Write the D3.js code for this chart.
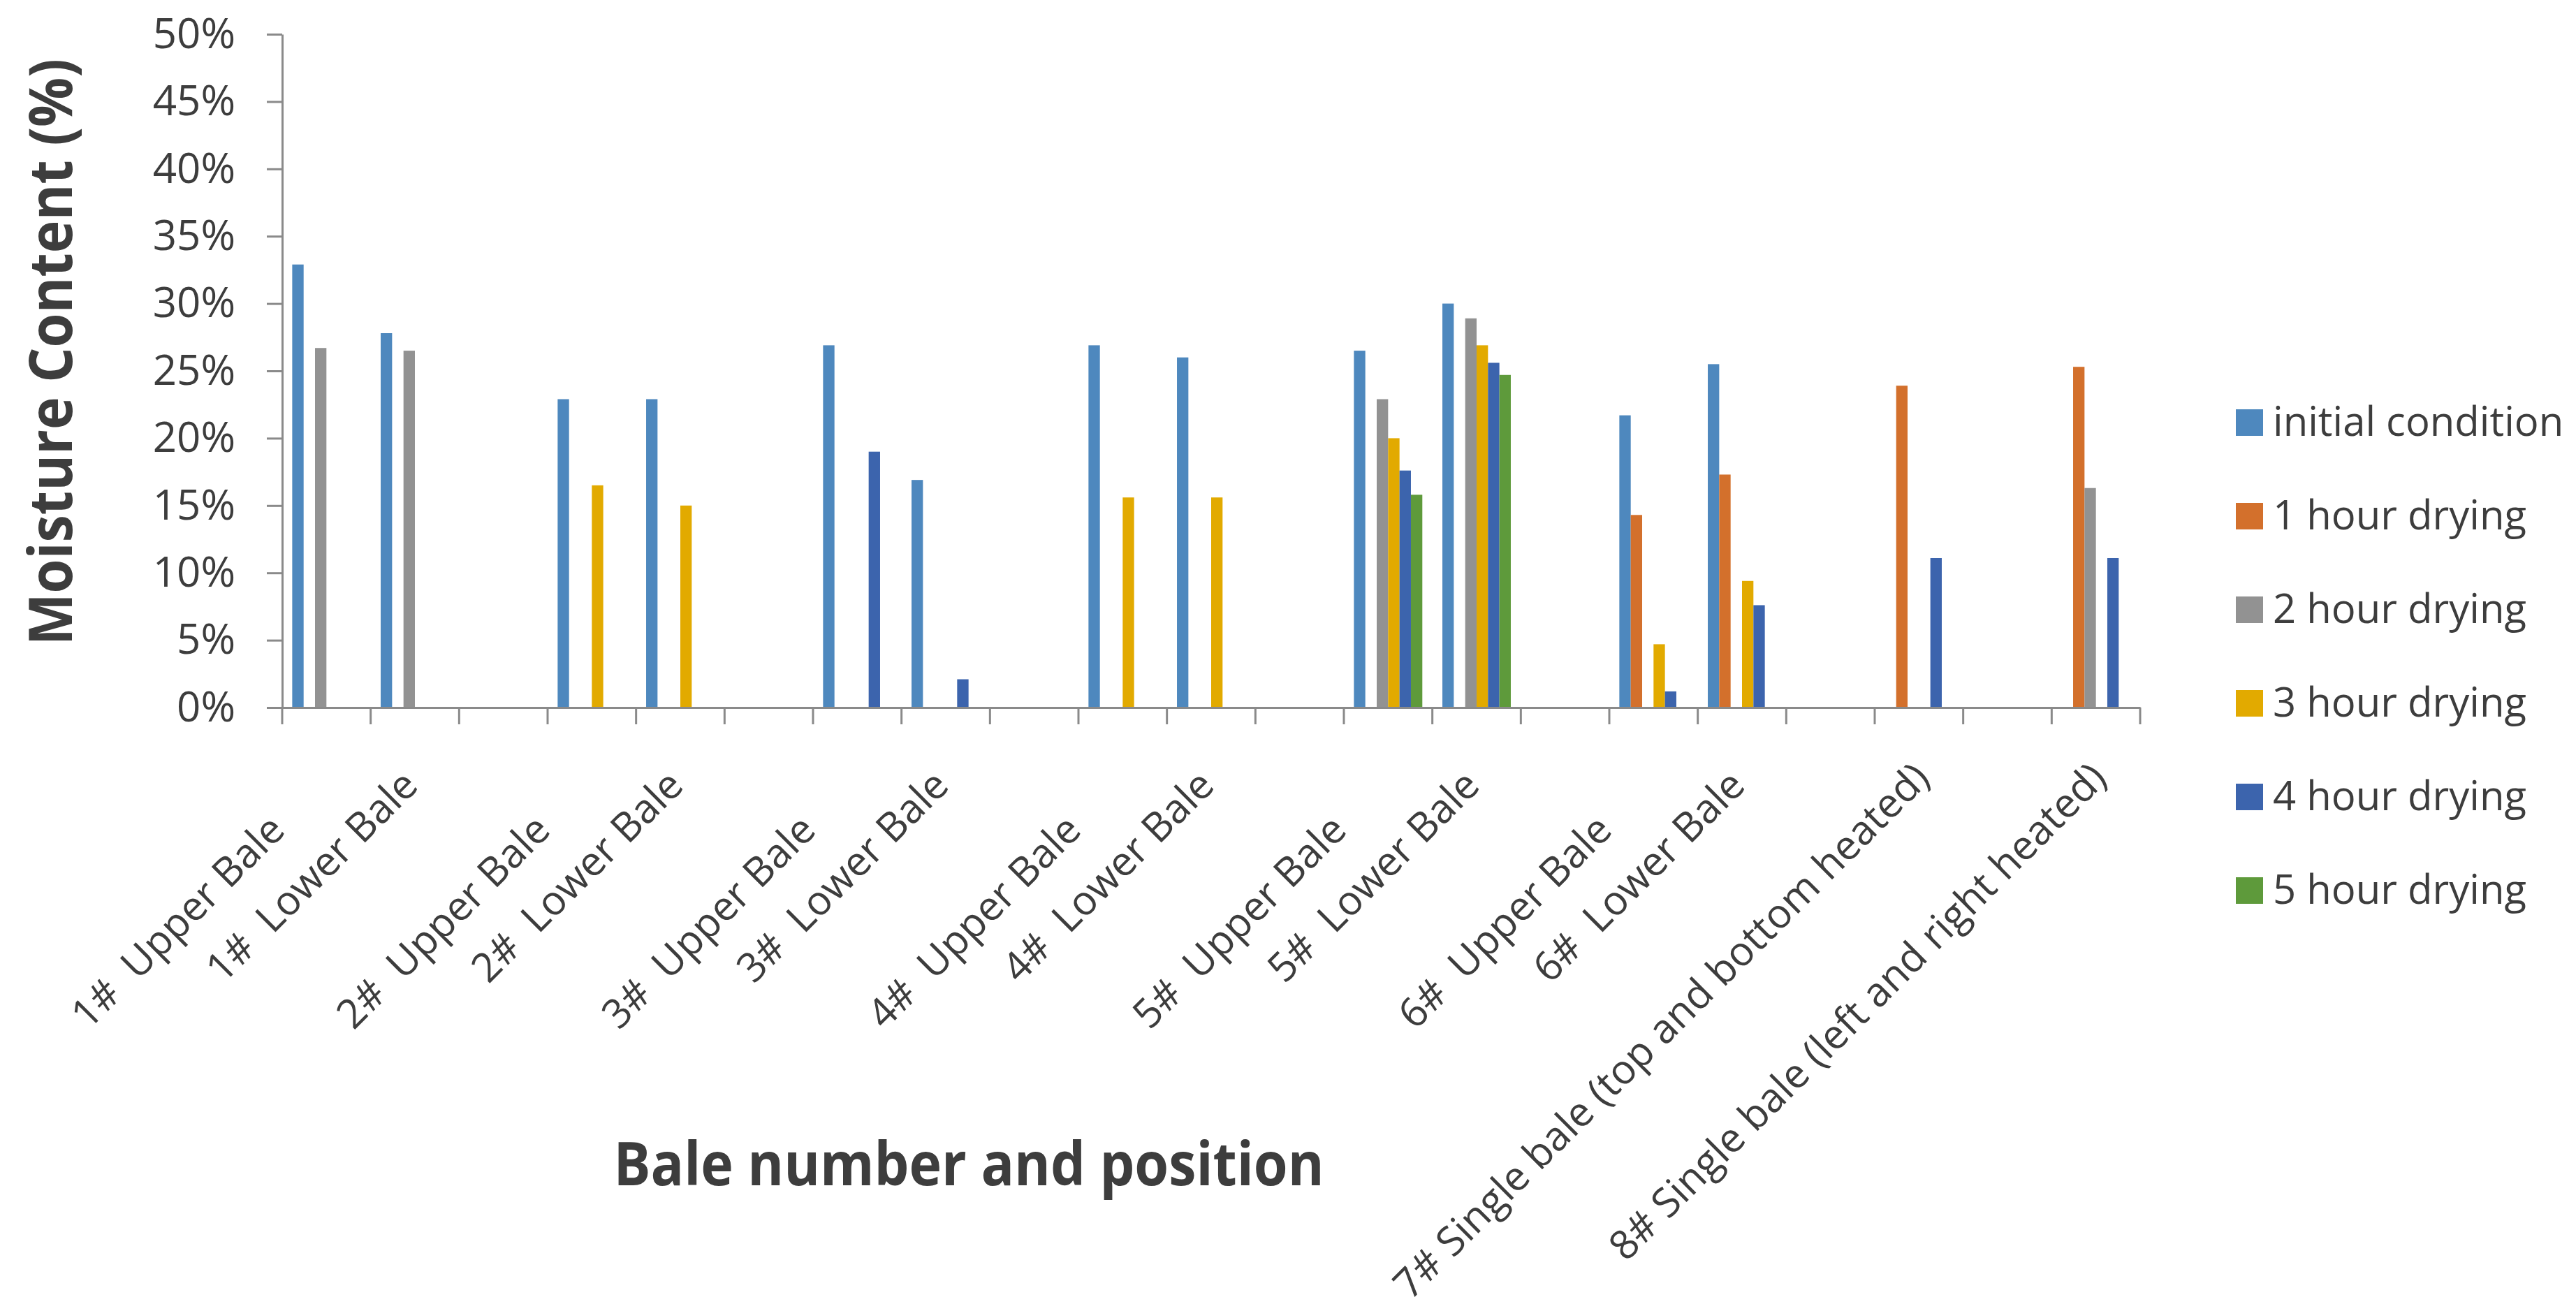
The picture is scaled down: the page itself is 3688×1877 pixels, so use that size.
<!DOCTYPE html>
<html>
<head>
<meta charset="utf-8">
<script src="https://cdn.jsdelivr.net/npm/d3@7"></script>
<style>
  html, body { margin: 0; padding: 0; background: #fff; }
  svg { display: block; }
</style>
</head>
<body>
<div id="chart"></div>
<script>
// Category labels (blank ones are the spacer columns between bale pairs)
const categories = [
  '1#  Upper Bale       ', '1#  Lower Bale ', '',
  '2#  Upper Bale       ', '2#  Lower Bale ', '',
  '3#  Upper Bale       ', '3#  Lower Bale ', '',
  '4#  Upper Bale       ', '4#  Lower Bale ', '',
  '5#  Upper Bale       ', '5#  Lower Bale ', '',
  '6#  Upper Bale       ', '6#  Lower Bale ', '',
  '7# Single bale (top and bottom heated)', '',
  '8# Single bale (left and right heated)'
];

const seriesNames = ['initial condition', '1 hour drying', '2 hour drying', '3 hour drying', '4 hour drying', '5 hour drying'];
const seriesColors = ['#4e88be', '#d3702c', '#929292', '#e2aa00', '#3c64ad', '#5e9a3b'];

// moisture content in %, null = no measurement
const initialCondition = [32.9, 27.8, null, 22.9, 22.9, null, 26.9, 16.9, null, 26.9, 26.0, null, 26.5, 30.0, null, 21.7, 25.5, null, null, null, null];
const hour1 = [null, null, null, null, null, null, null, null, null, null, null, null, null, null, null, 14.3, 17.3, null, 23.9, null, 25.3];
const hour2 = [26.7, 26.5, null, null, null, null, null, null, null, null, null, null, 22.9, 28.9, null, null, null, null, null, null, 16.3];
const hour3 = [null, null, null, 16.5, 15.0, null, null, null, null, 15.6, 15.6, null, 20.0, 26.9, null, 4.7, 9.4, null, null, null, null];
const hour4 = [null, null, null, null, null, null, 19.0, 2.1, null, null, null, null, 17.6, 25.6, null, 1.2, 7.6, null, 11.1, null, 11.1];
const hour5 = [null, null, null, null, null, null, null, null, null, null, null, null, 15.8, 24.7, null, null, null, null, null, null, null];

const yTicks = [0, 0.05, 0.1, 0.15, 0.2, 0.25, 0.3, 0.35, 0.4, 0.45, 0.5];

const allSeries = [initialCondition, hour1, hour2, hour3, hour4, hour5];

const W = 3688, H = 1877;
const plot = { left: 404, right: 3064, top: 49, bottom: 1013 };
const axisColor = '#8a8a8a';
const textColor = '#3d3d3d';
const font = '"Open Sans", "Noto Sans", sans-serif';

const svg = d3.select('#chart')
  .append('svg')
  .attr('width', W)
  .attr('height', H)
  .style('background', '#fff');

// Scales
const x0 = d3.scaleBand()
  .domain(d3.range(categories.length))
  .range([plot.left, plot.right])
  .padding(0);

const x1 = d3.scaleBand()
  .domain(seriesNames)
  .range([0, x0.bandwidth()])
  .paddingInner(0)
  .paddingOuter(0.88);

const y = d3.scaleLinear()
  .domain([0, 0.5])
  .range([plot.bottom, plot.top]);

const color = d3.scaleOrdinal().domain(seriesNames).range(seriesColors);

// Bars
const barData = [];
allSeries.forEach((vals, s) => {
  vals.forEach((v, i) => {
    if (v !== null) barData.push({ cat: i, series: seriesNames[s], value: v / 100 });
  });
});

svg.append('g')
  .selectAll('rect')
  .data(barData)
  .enter()
  .append('rect')
  .attr('x', d => x0(d.cat) + x1(d.series))
  .attr('width', x1.bandwidth())
  .attr('y', d => y(d.value))
  .attr('height', d => y(0) - y(d.value))
  .attr('fill', d => color(d.series));

// Y axis
const yAxis = svg.append('g')
  .attr('transform', `translate(${plot.left},0)`)
  .call(d3.axisLeft(y)
    .tickValues(yTicks)
    .tickFormat(d3.format('.0%'))
    .tickSize(22)
    .tickSizeOuter(0)
    .tickPadding(45));

yAxis.select('.domain').attr('stroke', axisColor).attr('stroke-width', 3);
yAxis.selectAll('.tick line').attr('stroke', axisColor).attr('stroke-width', 3);
yAxis.selectAll('.tick text')
  .style('font-family', font)
  .style('font-size', '60px')
  .attr('fill', textColor);

// X axis (labels at band centres, ticks on band boundaries)
const xAxis = svg.append('g')
  .attr('transform', `translate(0,${plot.bottom})`)
  .call(d3.axisBottom(x0)
    .tickFormat(i => categories[i])
    .tickSize(0)
    .tickSizeOuter(0));

xAxis.select('.domain').attr('stroke', axisColor).attr('stroke-width', 3);
xAxis.selectAll('.tick text')
  .style('font-family', font)
  .style('font-size', '58px')
  .style('white-space', 'pre')
  .attr('fill', textColor)
  .attr('text-anchor', 'end')
  .attr('x', 0)
  .attr('y', 0)
  .attr('dy', 0)
  .attr('transform', 'translate(18,104) rotate(-45)');

xAxis.selectAll('.boundary')
  .data(d3.range(categories.length + 1))
  .enter()
  .append('line')
  .attr('class', 'boundary')
  .attr('x1', i => i < categories.length ? x0(i) : x0.range()[1])
  .attr('x2', i => i < categories.length ? x0(i) : x0.range()[1])
  .attr('y1', 0)
  .attr('y2', 24)
  .attr('stroke', axisColor)
  .attr('stroke-width', 3);

// Axis titles
svg.append('text')
  .attr('transform', 'translate(103,504) rotate(-90)')
  .attr('text-anchor', 'middle')
  .attr('textLength', 840)
  .attr('lengthAdjust', 'spacingAndGlyphs')
  .style('font-family', font)
  .style('font-size', '86px')
  .style('font-weight', 'bold')
  .attr('fill', textColor)
  .text('Moisture Content (%)');

svg.append('text')
  .attr('x', 1387)
  .attr('y', 1697)
  .attr('text-anchor', 'middle')
  .attr('textLength', 1017)
  .attr('lengthAdjust', 'spacingAndGlyphs')
  .style('font-family', font)
  .style('font-size', '86px')
  .style('font-weight', 'bold')
  .attr('fill', textColor)
  .text('Bale number and position');

// Legend
const legend = svg.append('g')
  .attr('transform', 'translate(3201,605)');

const items = legend.selectAll('.item')
  .data(seriesNames)
  .enter()
  .append('g')
  .attr('class', 'item')
  .attr('transform', (d, i) => `translate(0,${i * 134})`);

items.append('rect')
  .attr('x', 0)
  .attr('y', -19)
  .attr('width', 39)
  .attr('height', 38)
  .attr('fill', d => color(d));

items.append('text')
  .attr('x', 53)
  .attr('y', 19)
  .style('font-family', font)
  .style('font-size', '58px')
  .attr('fill', textColor)
  .text(d => d);
</script>
</body>
</html>
